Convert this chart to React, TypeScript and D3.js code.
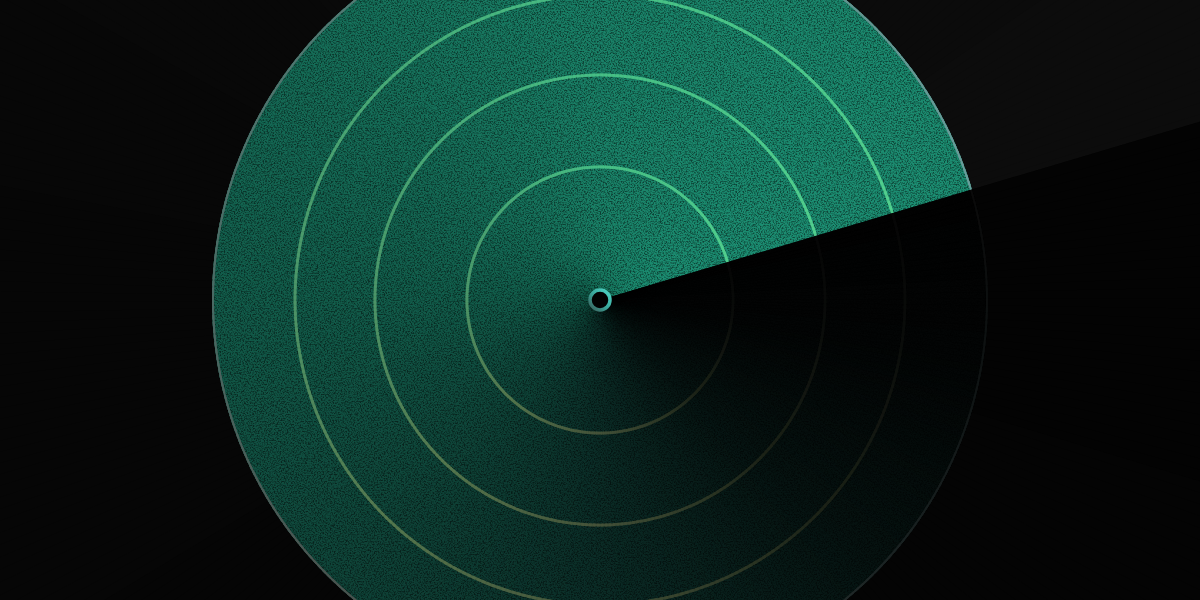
import * as d3 from "d3";
import React from "react";

// sweep angle of the beam edge (d3 arc convention: 0 = up, clockwise)
const beamDir = { dx: 1, dy: -0.297 };
const segments = 360;

// ring levels relative to the disc radius
const ringLevels = [0.343, 0.58, 0.786];

// colour stops along the trail, 0 = right behind the beam edge, 1 = just ahead of it
const trailStops = [0, 0.2, 0.45, 0.58, 0.7, 0.83, 0.93, 1];
const discColors = ["#1c8e72", "#1a8268", "#125d4b", "#0f4539", "#0b2d27", "#061311", "#030505", "#020202"];
const ringColors = ["#52d08e", "#48c086", "#4c9668", "#56784e", "#46543a", "#1d2418", "#0b0d0b", "#060606"];
const edgeColors = ["#6a9e9c", "#5a8680", "#4a6a64", "#4a5450", "#3c4442", "#1c2424", "#0e1212", "#0a0a0a"];
const bgStops = [0, 0.3, 0.45, 1];
const bgColors = ["#0c0c0c", "#090909", "#060606", "#030303"];

const W = 1200;
const H = 600;

export default function App() {
  const cx = 600;
  const cy = 300;
  const R = 388;
  const r = d3.scaleLinear().domain([0, 1]).range([0, R]);
  const beamAngle = Math.atan2(beamDir.dx, -beamDir.dy);

  const disc = d3.scaleLinear<string>().domain(trailStops).range(discColors).interpolate(d3.interpolateRgb);
  const ring = d3.scaleLinear<string>().domain(trailStops).range(ringColors).interpolate(d3.interpolateRgb);
  const edge = d3.scaleLinear<string>().domain(trailStops).range(edgeColors).interpolate(d3.interpolateRgb);
  const bg = d3.scaleLinear<string>().domain(bgStops).range(bgColors).interpolate(d3.interpolateRgb);

  const step = (Math.PI * 2) / segments;
  const overlap = 0.006;
  const segs = d3.range(segments).map((i) => {
    const t = (i + 0.5) / segments;
    // trail runs counter-clockwise from the beam edge
    const a0 = beamAngle - i * step + (i === 0 ? 0 : overlap);
    const a1 = beamAngle - (i + 1) * step - (i === segments - 1 ? 0 : overlap);
    return { t, startAngle: a1, endAngle: a0 };
  });

  const arc = d3.arc<any>();
  const wedge = (inner: number, outer: number, s: { startAngle: number; endAngle: number }) =>
    arc({ innerRadius: inner, outerRadius: outer, startAngle: s.startAngle, endAngle: s.endAngle }) ?? undefined;

  return (
    <svg width={W} height={H} style={{ position: "fixed", top: 0, left: 0, background: "#050505" }}>
      <defs>
        <filter id="grain" x="0" y="0" width="100%" height="100%" colorInterpolationFilters="sRGB">
          <feTurbulence type="fractalNoise" baseFrequency="0.7" numOctaves="3" seed="7" stitchTiles="stitch" />
          <feColorMatrix type="matrix" values="0 0 0 0 0  0 0 0 0 0  0 0 0 0 0  3.2 0 0 0 -1.35" />
        </filter>
        <clipPath id="discClip">
          <circle cx={cx} cy={cy} r={R} />
        </clipPath>
        <linearGradient id="dotGrad" x1="1" y1="0" x2="0" y2="1">
          <stop offset="0" stopColor="#4fd6c8" />
          <stop offset="0.5" stopColor="#3aa89c" />
          <stop offset="1" stopColor="#3a5e5a" />
        </linearGradient>
      </defs>

      <g transform={`translate(${cx},${cy})`}>
        {/* background trail */}
        {segs.map((s, i) => (
          <path key={`bg${i}`} d={wedge(0, 720, s)} fill={bg(s.t)} />
        ))}
        {/* disc */}
        {segs.map((s, i) => (
          <path key={`d${i}`} d={wedge(0, R, s)} fill={disc(s.t)} />
        ))}
      </g>

      {/* grain */}
      <rect
        x={cx - R}
        y={0}
        width={R * 2}
        height={H}
        filter="url(#grain)"
        clipPath="url(#discClip)"
        opacity={0.5}
      />

      <g transform={`translate(${cx},${cy})`}>
        {/* rings */}
        {ringLevels.map((lv) =>
          segs.map((s, i) => (
            <path key={`r${lv}-${i}`} d={wedge(r(lv) - 1.4, r(lv) + 1.4, s)} fill={ring(s.t)} opacity={0.92} />
          ))
        )}
        {/* disc edge */}
        {segs.map((s, i) => (
          <path key={`e${i}`} d={wedge(R - 2, R, s)} fill={edge(s.t)} />
        ))}
      </g>

      {/* centre dot */}
      <circle cx={cx} cy={cy} r={10} fill="#020202" stroke="url(#dotGrad)" strokeWidth={3.5} />
    </svg>
  );
}
